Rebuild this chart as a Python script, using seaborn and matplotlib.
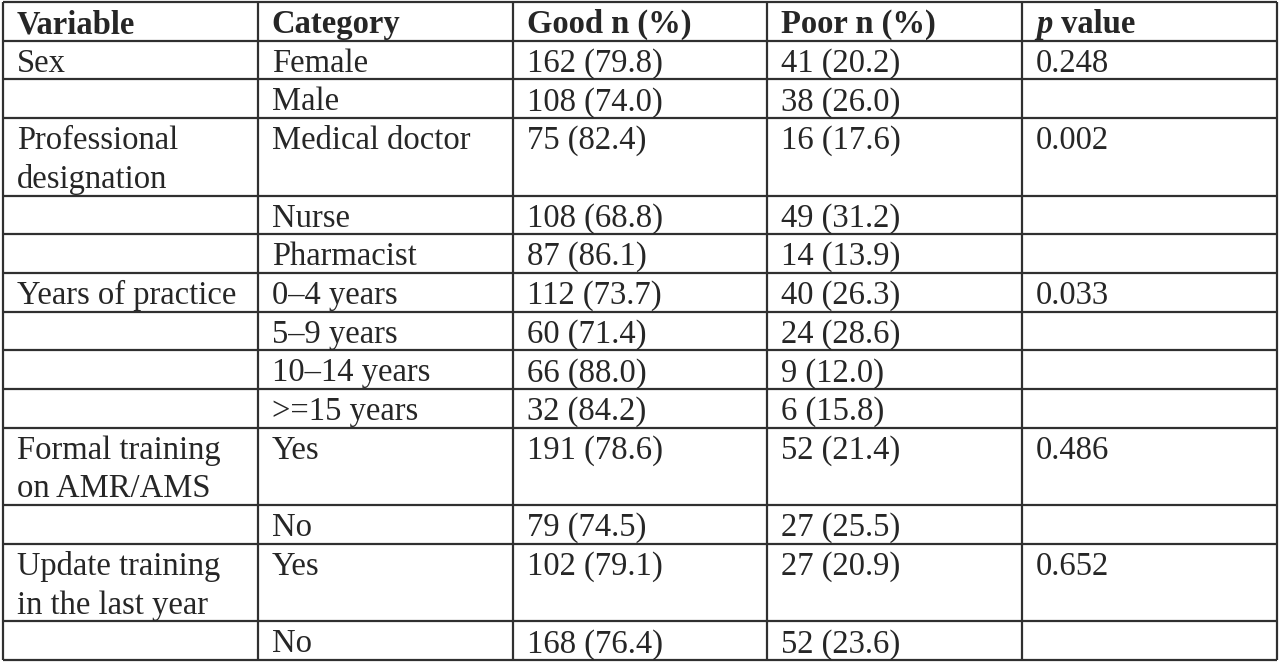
import matplotlib
matplotlib.use("Agg")
import matplotlib.pyplot as plt
import seaborn as sns

# table content
headers = ["Variable", "Category", "Good n (%)", "Poor n (%)", "p value"]
variables = ["Sex", "", "Professional\ndesignation", "", "", "Years of practice", "", "", "",
             "Formal training\non AMR/AMS", "", "Update training\nin the last year", ""]
categories = ["Female", "Male", "Medical doctor", "Nurse", "Pharmacist", "0–4 years", "5–9 years",
              "10–14 years", ">=15 years", "Yes", "No", "Yes", "No"]
good_n = [162, 108, 75, 108, 87, 112, 60, 66, 32, 191, 79, 102, 168]
good_pct = [79.8, 74.0, 82.4, 68.8, 86.1, 73.7, 71.4, 88.0, 84.2, 78.6, 74.5, 79.1, 76.4]
poor_n = [41, 38, 16, 49, 14, 40, 24, 9, 6, 52, 27, 27, 52]
poor_pct = [20.2, 26.0, 17.6, 31.2, 13.9, 26.3, 28.6, 12.0, 15.8, 21.4, 25.5, 20.9, 23.6]
p_values = ["0.248", "", "0.002", "", "", "0.033", "", "", "", "0.486", "", "0.652", ""]

sns.set_theme(style="white")
plt.rcParams['font.family'] = ['Liberation Serif', 'DejaVu Serif']

fig = plt.figure(figsize=(12.8, 6.64), dpi=100)
ax = fig.add_axes([0, 0, 1, 1])
ax.set_xlim(0, 1280)
ax.set_ylim(664, 0)
ax.axis("off")

left, right, top, bottom = 3, 1277, 2, 660
ncol = len(headers)
colw = (right - left) / ncol
col_x = [left + i * colw for i in range(ncol + 1)]

nlines = [v.count("\n") + 1 for v in variables]
unit = (bottom - top) / (1 + sum(nlines))
row_y = [top, top + unit]
for n in nlines:
    row_y.append(row_y[-1] + n * unit)

fs = 23.5
pad_x = 14
base_off = 31
lc = "#303030"
lw = 1.6

ax.hlines(row_y, left, right, color=lc, lw=lw)
ax.vlines(col_x, top, bottom, color=lc, lw=lw)

# header
for i, h in enumerate(headers):
    x = col_x[i] + pad_x
    y = row_y[0] + base_off
    if h == "p value":
        t = ax.text(x, y, "p", fontsize=fs, fontweight="bold", fontstyle="italic", va="baseline")
        fig.canvas.draw()
        bb = t.get_window_extent(fig.canvas.get_renderer())
        x2 = ax.transData.inverted().transform((bb.x1, bb.y0))[0]
        ax.text(x2, y, " value", fontsize=fs, fontweight="bold", va="baseline")
    else:
        ax.text(x, y, h, fontsize=fs, fontweight="bold", va="baseline")

# body
for r in range(len(categories)):
    y = row_y[r + 1] + base_off
    cells = [variables[r], categories[r],
             f"{good_n[r]} ({good_pct[r]:.1f})", f"{poor_n[r]} ({poor_pct[r]:.1f})", p_values[r]]
    for c, txt in enumerate(cells):
        for k, line in enumerate(txt.split("\n")):
            ax.text(col_x[c] + pad_x, y + k * unit, line, fontsize=fs, va="baseline")

fig.savefig("out.png", dpi=100, facecolor="white")
